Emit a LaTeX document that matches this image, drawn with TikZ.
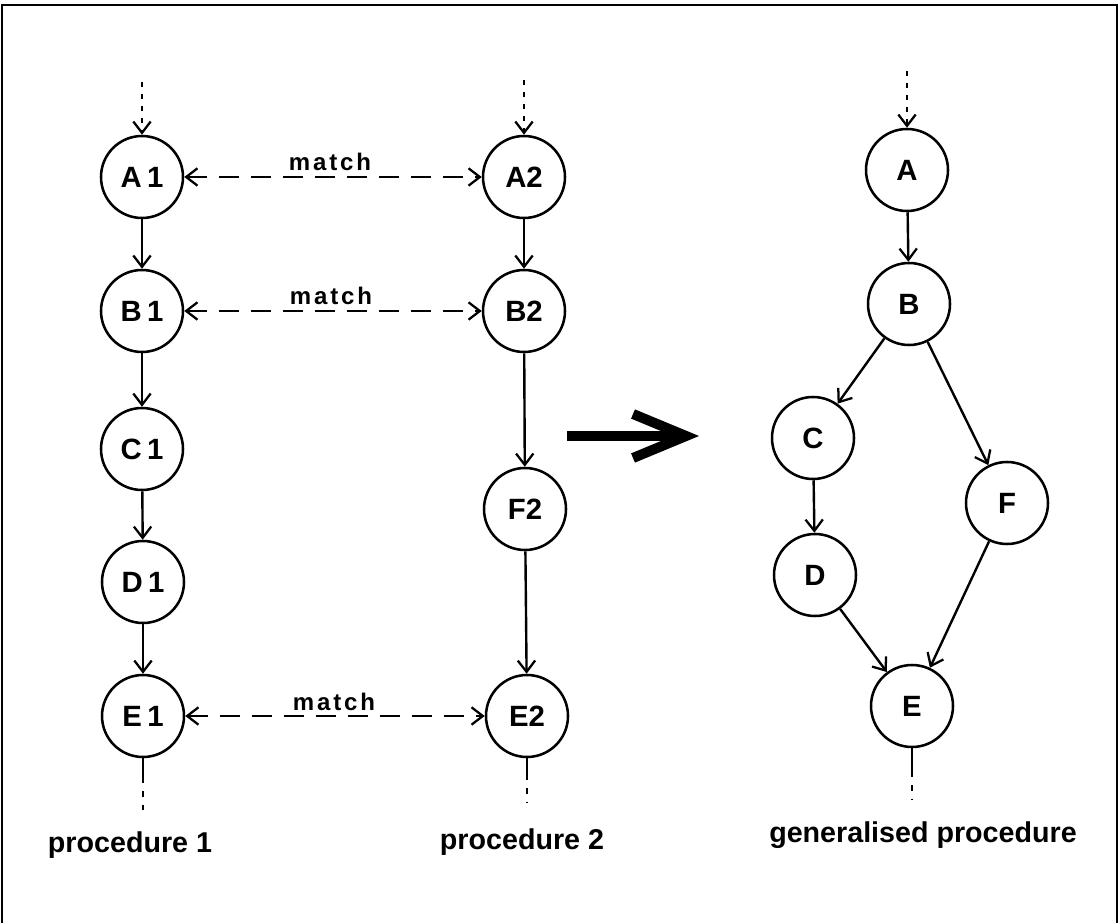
\documentclass[tikz,border=0pt]{standalone}
\usepackage{fontspec}
\setmainfont{Liberation Sans}
\newfontfamily\matchfont{Liberation Sans}[LetterSpace=12]
\usetikzlibrary{arrows.meta}
\tikzset{
  st/.style={circle,draw,line width=1.9pt,minimum size=61.5pt,inner sep=0pt,
    font=\fontsize{22}{26}\selectfont\bfseries},
  barb/.tip={Straight Barb[length=8.5pt,width=13pt,line width=1.7pt]},
  edge/.style={line width=1.8pt,-barb},
  stub/.style={line width=1.8pt},
  dotin/.style={line width=1.8pt,dash pattern=on 4pt off 5pt,-barb},
  dotout/.style={line width=1.8pt,dash pattern=on 4pt off 6pt},
  matchline/.style={line width=1.8pt,dash pattern=on 15pt off 9pt,barb-barb},
  matchlbl/.style={inner sep=0pt,anchor=base,font=\matchfont\fontsize{18}{20}\selectfont\bfseries},
  caption/.style={inner sep=0pt,anchor=base,font=\fontsize{21.5}{25}\selectfont\bfseries},
  bigarrow/.style={line width=7.5pt,miter limit=20}
}
\begin{document}
\begin{tikzpicture}[x=0.75pt,y=-0.75pt]
\useasboundingbox (0,0) rectangle (1120,923);
% frame
\draw[line width=1.5pt] (2,923) -- (2,5) -- (1117,5) -- (1117,923);

% procedure 1
\node[st] (A1) at (142,177) {A\kern4pt1};
\node[st] (B1) at (142,311) {B\kern4pt1};
\node[st] (C1) at (142,449) {C\kern4pt1};
\node[st] (D1) at (143,582) {D\kern4pt1};
\node[st] (E1) at (143,716) {E\kern4pt1};
% procedure 2
\node[st] (A2) at (524,177) {A2};
\node[st] (B2) at (524,311) {B2};
\node[st] (F2) at (525,509) {F2};
\node[st] (E2) at (527,716) {E2};
% generalised
\node[st] (A) at (907,170) {A};
\node[st] (B) at (909,304) {B};
\node[st] (C) at (813,438) {C};
\node[st] (F) at (1007,503) {F};
\node[st] (D) at (815,575) {D};
\node[st] (E) at (912,706) {E};

% entry / exit coordinates
\coordinate (tA1) at (142,82);
\coordinate (tA2) at (524,80);
\coordinate (tA) at (907,71);
\coordinate (bE1) at (143,778);
\coordinate (eE1) at (143,813);
\coordinate (bE2) at (527,775);
\coordinate (eE2) at (527,802);
\coordinate (bE) at (912,772);
\coordinate (eE) at (912,799);

\draw[dotin] (tA1) -- (A1);
\draw[dotin] (tA2) -- (A2);
\draw[dotin] (tA) -- (A);
\draw[stub] (E1) -- (bE1);
\draw[dotout] (bE1) -- (eE1);
\draw[stub] (E2) -- (bE2);
\draw[dotout] (bE2) -- (eE2);
\draw[stub] (E) -- (bE);
\draw[dotout] (bE) -- (eE);

% edges
\draw[edge] (A1) -- (B1);
\draw[edge] (B1) -- (C1);
\draw[edge] (C1) -- (D1);
\draw[edge] (D1) -- (E1);
\draw[edge] (A2) -- (B2);
\draw[edge] (B2) -- (F2);
\draw[edge] (F2) -- (E2);
\draw[edge] (A) -- (B);
\draw[edge] (B) -- (C);
\draw[edge] (B) -- (F);
\draw[edge] (C) -- (D);
\draw[edge] (D) -- (E);
\draw[edge] (F) -- (E);

% matches
\draw[matchline] (A1) -- (A2);
\draw[matchline] (B1) -- (B2);
\draw[matchline] (E1) -- (E2);
\node[matchlbl] (m1) at (330,171) {match};
\node[matchlbl] (m2) at (331,305) {match};
\node[matchlbl] (m3) at (334,710) {match};

% big arrow
\coordinate (bs) at (567,436);
\coordinate (bt) at (684,436);
\coordinate (bw1) at (633,414);
\coordinate (bv) at (686,436);
\coordinate (bw2) at (633,458);
\draw[bigarrow] (bs) -- (bt);
\draw[bigarrow] (bw1) -- (bv) -- (bw2);

% captions
\node[caption] (c1) at (130,852) {procedure 1};
\node[caption] (c2) at (522,849) {procedure 2};
\node[caption] (c3) at (923,842) {generalised procedure};
\end{tikzpicture}
\end{document}
